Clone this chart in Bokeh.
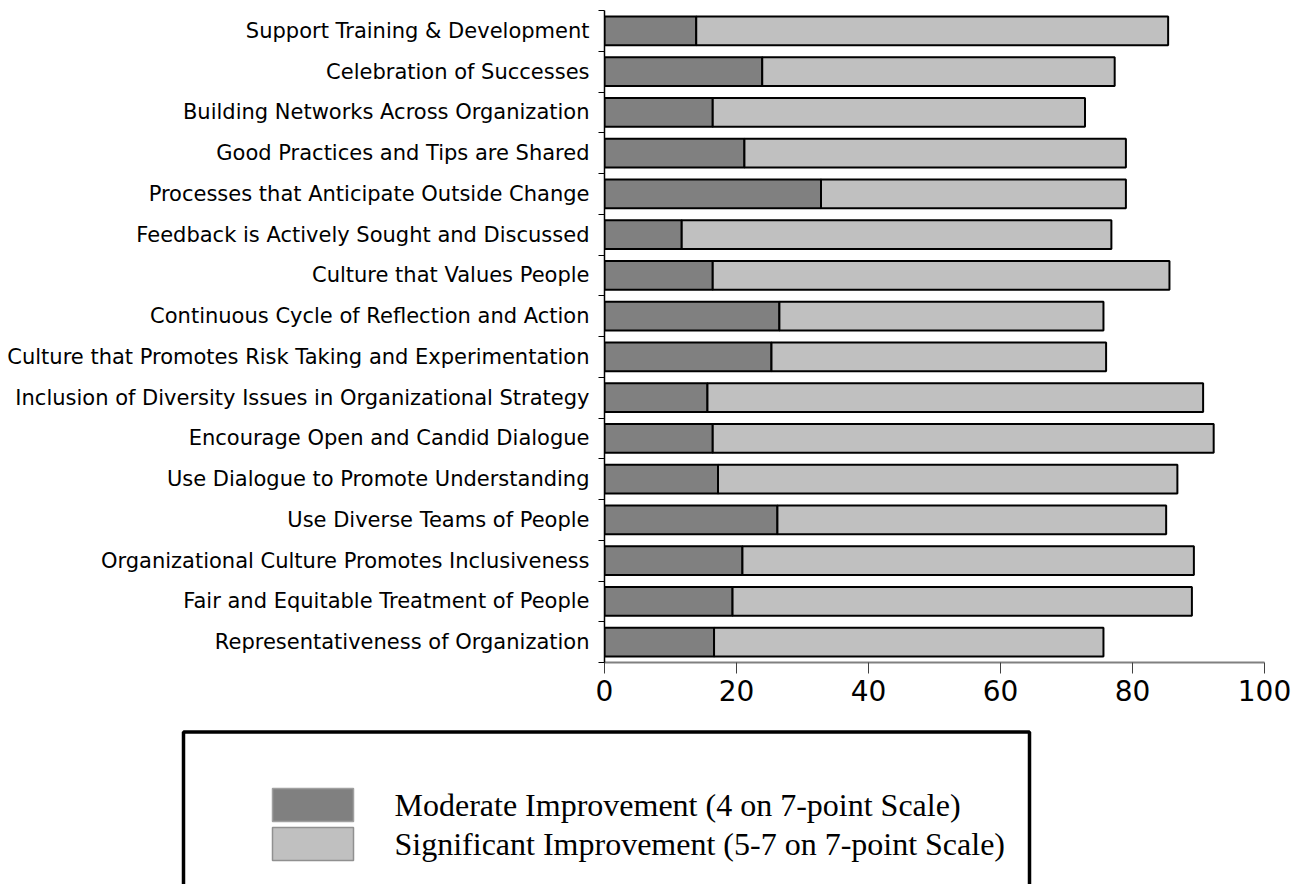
from bokeh.plotting import figure
from bokeh.models import ColumnDataSource, FixedTicker, Range1d
from bokeh.core.properties import value
from bokeh.embed import file_html
from bokeh.resources import INLINE

# ---- data (top row first) ----
categories = [
    "Support Training & Development",
    "Celebration of Successes",
    "Building Networks Across Organization",
    "Good Practices and Tips are Shared",
    "Processes that Anticipate Outside Change",
    "Feedback is Actively Sought and Discussed",
    "Culture that Values People",
    "Continuous Cycle of Reflection and Action",
    "Culture that Promotes Risk Taking and Experimentation",
    "Inclusion of Diversity Issues in Organizational Strategy",
    "Encourage Open and Candid Dialogue",
    "Use Dialogue to Promote Understanding",
    "Use Diverse Teams of People",
    "Organizational Culture Promotes Inclusiveness",
    "Fair and Equitable Treatment of People",
    "Representativeness of Organization",
]
moderate = [13.9, 23.9, 16.4, 21.2, 32.8, 11.7, 16.4, 26.5, 25.3, 15.6, 16.4, 17.2, 26.2, 20.9, 19.4, 16.6]
significant = [71.5, 53.4, 56.4, 57.8, 46.2, 65.1, 69.2, 49.1, 50.7, 75.1, 75.9, 69.6, 58.9, 68.4, 69.6, 59.0]
series_names = ["Moderate Improvement (4 on 7-point Scale)",
                "Significant Improvement (5-7 on 7-point Scale)"]
x_ticks = [0, 20, 40, 60, 80, 100]

DARK = "#808080"
LIGHT = "#C0C0C0"

n = len(categories)
ypos = [n - 1 - i for i in range(n)]
src = ColumnDataSource(dict(y=ypos, moderate=moderate, significant=significant, cat=categories))

W = 1308
p = figure(width=W, height=728,
           x_range=Range1d(0, 100), y_range=Range1d(-0.5, n - 0.5),
           output_backend="svg", toolbar_location=None,
           min_border_left=604, min_border_right=44,
           min_border_top=10, min_border_bottom=66)
p.outline_line_color = None
p.background_fill_color = "white"
p.border_fill_color = "white"
p.xgrid.visible = False
p.ygrid.visible = False

p.hbar_stack(["moderate", "significant"], y="y", height=0.71, source=src,
             fill_color=[DARK, LIGHT], line_color="black", line_width=2)

# x axis
xa = p.xaxis[0]
xa.ticker = FixedTicker(ticks=x_ticks)
xa.axis_line_color = "#808080"
xa.axis_line_width = 2
xa.major_tick_line_color = "#404040"
xa.major_tick_out = 11
xa.major_tick_in = 0
xa.minor_tick_line_color = None
xa.major_label_text_font = "DejaVu Sans"
xa.major_label_text_font_size = "28px"
xa.major_label_text_color = "black"
xa.major_label_standoff = 6

# y axis: labels at category centres, small ticks at boundaries
ya = p.yaxis[0]
ya.ticker = FixedTicker(ticks=ypos, minor_ticks=[k - 0.5 for k in range(n + 1)])
ya.major_label_overrides = {int(y): c for y, c in zip(ypos, categories)}
ya.major_tick_line_color = None
ya.major_tick_out = 0
ya.major_tick_in = 0
ya.minor_tick_out = 6
ya.minor_tick_in = 0
ya.minor_tick_line_color = "black"
ya.axis_line_color = "black"
ya.axis_line_width = 1.5
ya.major_label_text_font = "DejaVu Sans"
ya.major_label_text_font_size = "21px"
ya.major_label_text_color = "black"
ya.major_label_standoff = 9

# ---- legend panel (pixel coordinates, y downward) ----
LH = 156
lg = figure(width=W, height=LH, x_range=Range1d(0, W), y_range=Range1d(LH, 0),
            output_backend="svg", toolbar_location=None,
            x_axis_location=None, y_axis_location=None,
            min_border_left=0, min_border_right=0, min_border_top=0, min_border_bottom=0)
lg.outline_line_color = None
lg.xgrid.visible = False
lg.ygrid.visible = False
lg.background_fill_color = "white"
lg.border_fill_color = "white"

lg.quad(left=[183], right=[1029], top=[3.5], bottom=[300],
        fill_color=None, line_color="black", line_width=3.5)
lg.rect(x=[312.5, 312.5], y=[76.5, 115.5], width=81, height=33,
        fill_color=[DARK, LIGHT], line_color=["#A0A0A0", "#909090"], line_width=1.5)
lg.text(x=[394, 394], y=[76.5, 115.5], text=series_names,
        text_font=value("Liberation Serif"), text_font_size="32px",
        text_color="black", text_baseline="middle", text_align="left")

open("out.html", "w").write(file_html([p, lg], INLINE))
